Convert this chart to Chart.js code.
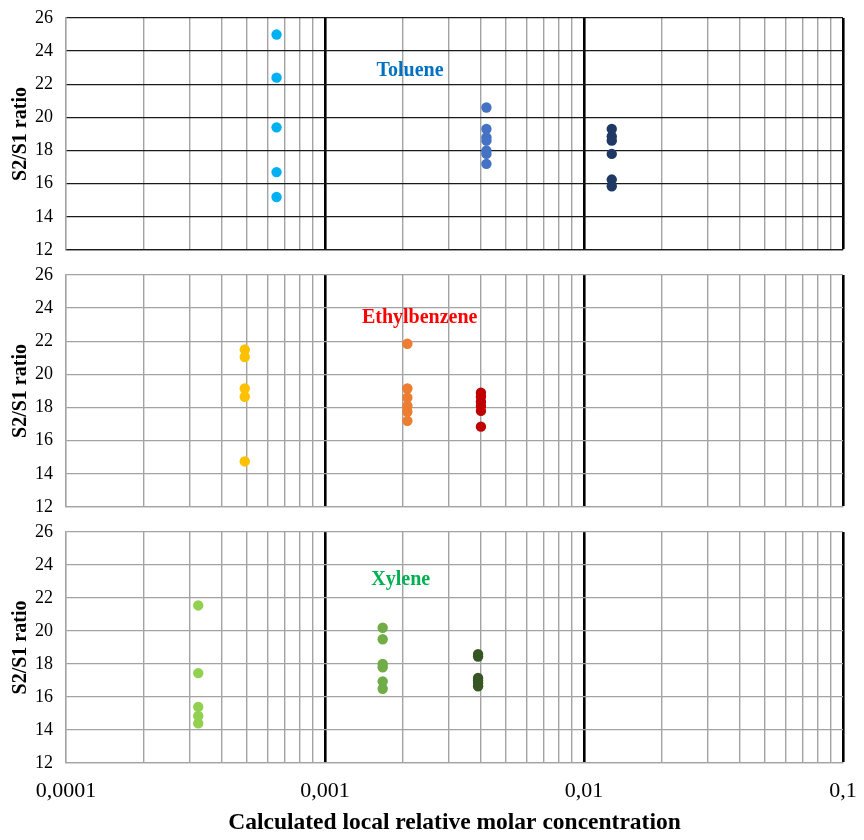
<!DOCTYPE html>
<html>
<head>
<meta charset="utf-8">
<script src="https://cdn.jsdelivr.net/npm/chart.js@4.4.1/dist/chart.umd.min.js"></script>
<style>
  body { margin: 0; background: #fff; }
  #wrap { position: relative; width: 864px; height: 840px; }
  canvas { position: absolute; left: 0; }
</style>
</head>
<body>
<div id="wrap">
  <canvas id="c1" width="864" height="261" style="top:0px"></canvas>
  <canvas id="c2" width="864" height="257" style="top:261px"></canvas>
  <canvas id="c3" width="864" height="322" style="top:518px"></canvas>
</div>
<script>
// x axis ticks (log scale, 1..9 per decade)
const xTicks = [0.0001, 0.0002, 0.0003, 0.0004, 0.0005, 0.0006, 0.0007, 0.0008, 0.0009,
  0.001, 0.002, 0.003, 0.004, 0.005, 0.006, 0.007, 0.008, 0.009,
  0.01, 0.02, 0.03, 0.04, 0.05, 0.06, 0.07, 0.08, 0.09, 0.1];
const xDecades = [0.0001, 0.001, 0.01, 0.1];
const yTicks = [12, 14, 16, 18, 20, 22, 24, 26];

// Toluene
const tolX = [0.00065, 0.0042, 0.0128];
const tolA = [25.0, 22.4, 19.4, 16.7, 15.2];
const tolB = [20.6, 19.3, 18.8, 18.6, 18.0, 17.8, 17.2];
const tolC = [19.3, 18.85, 18.6, 17.8, 16.25, 15.85];

// Ethylbenzene
const ethX = [0.00049, 0.00208, 0.0040];
const ethA = [21.5, 21.05, 19.15, 18.65, 14.75];
const ethB = [21.85, 19.15, 18.6, 18.1, 17.75, 17.2];
const ethC = [18.9, 18.65, 18.35, 18.1, 17.8, 16.85];

// Xylene
const xylX = [0.000324, 0.00167, 0.0039];
const xylA = [21.55, 17.45, 15.4, 14.85, 14.4];
const xylB = [20.2, 19.5, 18.0, 17.8, 16.95, 16.5];
const xylC = [18.6, 18.45, 17.15, 17.0, 16.85, 16.65];

const SERIF = '"Liberation Serif", "Times New Roman", serif';
const GRAY = '#a3a3a3';
const CLEAR = 'rgba(0,0,0,0)';

// draws the compound name inside each panel
const seriesLabel = {
  id: 'seriesLabel',
  afterDatasetsDraw(chart, args, opts) {
    const ctx = chart.ctx;
    const x = chart.scales.x.getPixelForValue(opts.x);
    const y = chart.scales.y.getPixelForValue(opts.y);
    ctx.save();
    ctx.font = 'bold 20px ' + SERIF;
    ctx.fillStyle = opts.color;
    ctx.textAlign = 'center';
    ctx.textBaseline = 'middle';
    ctx.fillText(opts.text, x, y);
    ctx.restore();
  }
};

function points(x, ys) {
  return ys.map(y => ({ x: x, y: y }));
}

function makePanel(id, cfg) {
  const datasets = cfg.series.map((ys, i) => ({
    data: points(cfg.xs[i], ys),
    backgroundColor: cfg.colors[i],
    borderWidth: 0,
    pointRadius: 5.2,
    pointHoverRadius: 5.2,
    showLine: false
  }));

  new Chart(document.getElementById(id), {
    type: 'scatter',
    data: { datasets: datasets },
    plugins: [seriesLabel],
    options: {
      responsive: false,
      animation: false,
      layout: { padding: { top: cfg.top, right: 21, left: 0, bottom: 0 } },
      plugins: {
        legend: { display: false },
        tooltip: { enabled: false },
        seriesLabel: cfg.label
      },
      scales: {
        x: {
          type: 'logarithmic',
          min: 0.0001,
          max: 0.1,
          afterBuildTicks: s => { s.ticks = xTicks.map(v => ({ value: v })); },
          afterFit: s => { s.height = cfg.xHeight; },
          border: { display: true, color: cfg.hColor, width: 1.3 },
          grid: {
            drawTicks: cfg.showX,
            tickLength: 15,
            tickColor: CLEAR,
            color: c => (xDecades.indexOf(c.tick.value) > 0 ? '#000' : GRAY),
            lineWidth: c => (xDecades.indexOf(c.tick.value) > 0 ? 2.6 : 1.4)
          },
          ticks: {
            display: cfg.showX,
            autoSkip: false,
            maxRotation: 0,
            padding: 0,
            color: '#000',
            font: { family: SERIF, size: 22 },
            callback: v => (xDecades.indexOf(v) >= 0 ? String(v).replace('.', ',') : '')
          },
          title: {
            display: cfg.showX,
            text: 'Calculated local relative molar concentration',
            color: '#000',
            font: { family: SERIF, size: 23.5, weight: 'bold' },
            padding: { top: 0, bottom: 3 }
          }
        },
        y: {
          min: 12,
          max: 26,
          afterBuildTicks: s => { s.ticks = yTicks.map(v => ({ value: v })); },
          afterFit: s => { s.width = 66; },
          border: { display: true, color: GRAY, width: 1.4 },
          grid: { drawTicks: true, tickLength: 13, tickColor: CLEAR, color: cfg.hColor, lineWidth: 1.3 },
          ticks: {
            padding: 0,
            color: '#000',
            font: { family: SERIF, size: 18 }
          },
          title: {
            display: true,
            text: 'S2/S1 ratio',
            color: '#000',
            font: { family: SERIF, size: 20, weight: 'bold' },
            padding: { top: 9, bottom: 0 }
          }
        }
      }
    }
  });
}

makePanel('c1', {
  xs: tolX, series: [tolA, tolB, tolC],
  colors: ['#00b0f0', '#4472c4', '#1f3864'],
  label: { text: 'Toluene', x: 0.00213, y: 22.8, color: '#0070c0' },
  hColor: '#1a1a1a', top: 18, xHeight: 11, showX: false
});

makePanel('c2', {
  xs: ethX, series: [ethA, ethB, ethC],
  colors: ['#ffc000', '#ed7d31', '#c00000'],
  label: { text: 'Ethylbenzene', x: 0.00232, y: 23.4, color: '#ff0000' },
  hColor: GRAY, top: 14, xHeight: 11, showX: false
});

makePanel('c3', {
  xs: xylX, series: [xylA, xylB, xylC],
  colors: ['#92d050', '#70ad47', '#375623'],
  label: { text: 'Xylene', x: 0.00196, y: 23.1, color: '#00b050' },
  hColor: GRAY, top: 14, xHeight: 77, showX: true
});
</script>
</body>
</html>
